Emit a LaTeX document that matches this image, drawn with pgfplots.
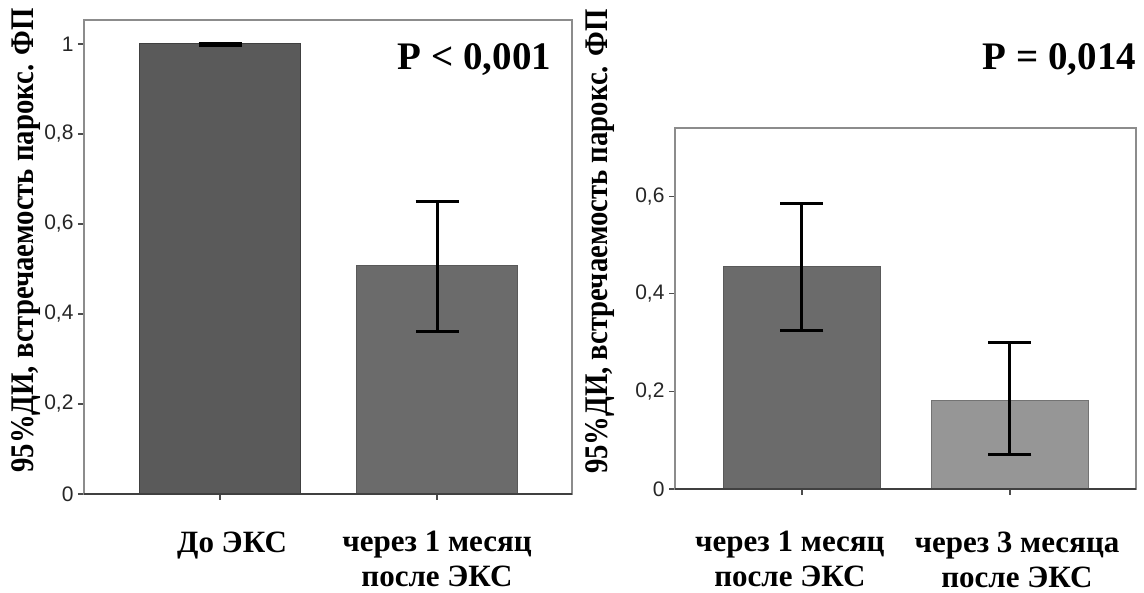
\documentclass[border=0pt]{standalone}
\usepackage{fontspec}
\setmainfont{Liberation Serif}
\setsansfont{Liberation Sans}
\newfontfamily\ylabfont[FakeStretch=0.87]{Liberation Serif}
\usepackage{pgfplots}
\pgfplotsset{compat=1.18}
\usepackage{pgfplotstable}

\definecolor{barA}{HTML}{5A5A5A}
\definecolor{barB}{HTML}{6B6B6B}
\definecolor{barC}{HTML}{969696}
\definecolor{frame}{HTML}{8C8C8C}

% x, y, err+ , err-
\pgfplotstableread{
x y ep em
0 1.000 0.000 0.004
}\leftA
\pgfplotstableread{
x y ep em
1 0.507 0.142 0.145
}\leftB
\pgfplotstableread{
x y ep em
0 0.456 0.129 0.131
}\rightA
\pgfplotstableread{
x y ep em
1 0.182 0.118 0.112
}\rightB

\pgfplotsset{
  spssbars/.style={
    scale only axis,
    ybar, bar shift=0pt,
    ymin=0, clip=false,
    axis line style={frame, line width=1.4pt},
    tick align=outside,
    xtick pos=bottom, ytick pos=left,
    major tick length=6pt,
    tick style={black!70, line width=1.2pt},
    xtick={0,1},
    yticklabel style={font=\sffamily\fontsize{21}{21}\selectfont, text=black!85, xshift=-1pt},
    xticklabel style={font=\bfseries\fontsize{31}{35}\selectfont, align=center},
    ylabel style={font=\ylabfont\bfseries\fontsize{33}{33}\selectfont, anchor=center},
    error bars/error bar style={black, line width=3pt},
    error bars/error mark options={black, line width=3pt, mark size=21.5pt, rotate=90},
  },
}

\begin{document}
\begin{tikzpicture}
\path[use as bounding box] (0,0) rectangle (1144pt,593pt);

\begin{axis}[
  spssbars,
  at={(84pt,99pt)}, anchor=south west,
  width=488pt, height=474pt,
  xmin=-0.627, xmax=1.622,
  ymax=1.0533,
  bar width=0.745,
  ytick={0,0.2,0.4,0.6,0.8,1},
  yticklabels={0,{0,2},{0,4},{0,6},{0,8},1},
  xticklabels={До ЭКС,через 1 месяц\\после ЭКС},
  xticklabel style={yshift=-28pt, xshift={(\ticknum==0)*12}},
  ylabel={95\%ДИ, встречаемость парокс. ФП},
  ylabel style={at={(axis description cs:-0.119,0.535)}},
]
\addplot[fill=barA, draw=black!75, line width=1pt,
  error bars/.cd, y dir=both, y explicit]
  table[x=x, y=y, y error plus=ep, y error minus=em] {\leftA};
\addplot[fill=barB, draw=black!65, line width=1pt,
  error bars/.cd, y dir=both, y explicit]
  table[x=x, y=y, y error plus=ep, y error minus=em] {\leftB};
\draw[black!75, line width=2pt] (rel axis cs:0,0) -- (rel axis cs:1,0);
\node[font=\bfseries\fontsize{39}{39}\selectfont] at (axis description cs:0.80,0.916) {P < 0,001};
\end{axis}

\begin{axis}[
  spssbars,
  at={(675pt,104pt)}, anchor=south west,
  width=461pt, height=361pt,
  xmin=-0.61, xmax=1.606,
  ymax=0.74,
  bar width=0.755,
  ytick={0,0.2,0.4,0.6},
  yticklabels={0,{0,2},{0,4},{0,6}},
  xticklabels={через 1 месяц\\после ЭКС,через 3 месяца\\после ЭКС},
  xticklabel style={yshift=-33pt, xshift={(\ticknum==0)*(-12)+(\ticknum==1)*7}},
  ylabel={95\%ДИ, встречаемость парокс. ФП},
  ylabel style={at={(axis description cs:-0.163,0.685)}},
]
\addplot[fill=barB, draw=black!65, line width=1pt,
  error bars/.cd, y dir=both, y explicit]
  table[x=x, y=y, y error plus=ep, y error minus=em] {\rightA};
\addplot[fill=barC, draw=black!55, line width=1pt,
  error bars/.cd, y dir=both, y explicit]
  table[x=x, y=y, y error plus=ep, y error minus=em] {\rightB};
\draw[black!75, line width=2pt] (rel axis cs:0,0) -- (rel axis cs:1,0);
\node[font=\bfseries\fontsize{39}{39}\selectfont] at (axis description cs:0.834,1.19) {P = 0,014};
\end{axis}
\end{tikzpicture}
\end{document}
